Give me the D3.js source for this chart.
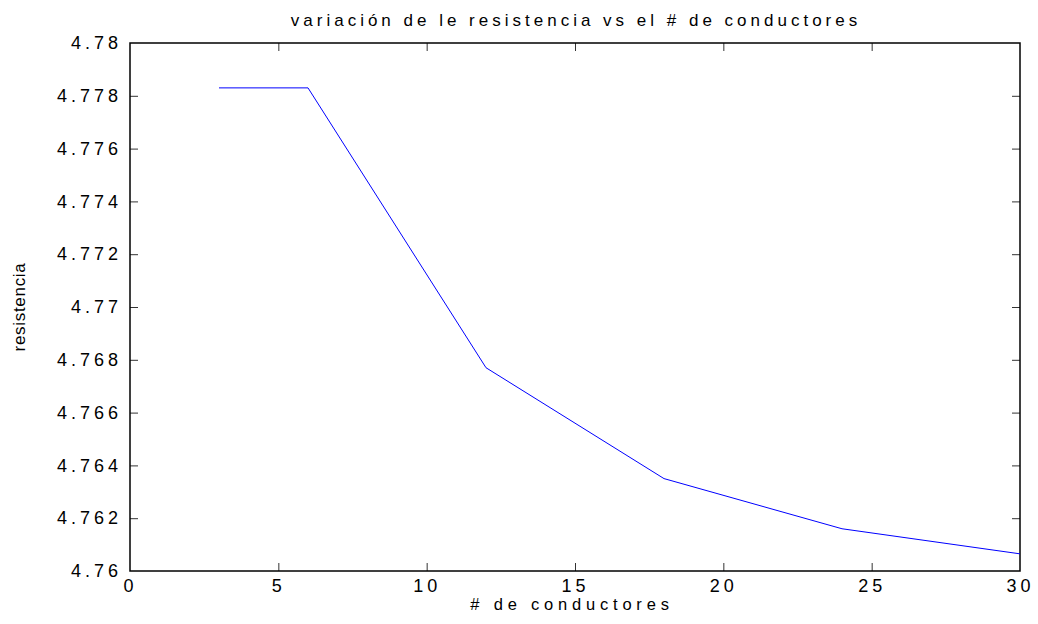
<!DOCTYPE html>
<html>
<head>
<meta charset="utf-8">
<script src="https://cdn.jsdelivr.net/npm/d3@7"></script>
<style>
  body { margin: 0; background: #fff; }
  svg { display: block; }
  text { font-family: "Liberation Sans", Arial, sans-serif; fill: #000; }
</style>
</head>
<body>
<svg id="chart" width="1038" height="624"></svg>
<script>
// Number of conductors and resulting resistance
const conductores = [3, 6, 12, 18, 24, 30];
const resistencia = [4.77830, 4.77830, 4.76770, 4.76350, 4.76160, 4.76065];
const xTicks = [0, 5, 10, 15, 20, 25, 30];
const yTicks = [4.76, 4.762, 4.764, 4.766, 4.768, 4.77, 4.772, 4.774, 4.776, 4.778, 4.78];

const titulo = "variación de le resistencia vs el # de conductores";
const xTitulo = "# de conductores";
const yTitulo = "resistencia";

const svg = d3.select("#chart");
const m = { left: 130, right: 1020, top: 43, bottom: 571 };

const x = d3.scaleLinear().domain([0, 30]).range([m.left, m.right]);
const y = d3.scaleLinear().domain([4.76, 4.78]).range([m.bottom, m.top]);

const fmt = d => String(+d.toFixed(3));
const tickLen = 8;
const tickFont = { size: "18px", spacing: "4px" };

// ticks on all four sides, pointing inward
const axes = [
  { axis: d3.axisBottom(x).tickValues(xTicks).tickFormat(fmt), tr: `translate(0,${m.bottom})`, labels: "x", pad: 20.5 },
  { axis: d3.axisTop(x).tickValues(xTicks), tr: `translate(0,${m.top})`, labels: null, pad: 3 },
  { axis: d3.axisLeft(y).tickValues(yTicks).tickFormat(fmt), tr: `translate(${m.left},0)`, labels: "y", pad: 8 },
  { axis: d3.axisRight(y).tickValues(yTicks), tr: `translate(${m.right},0)`, labels: null, pad: 3 }
];

axes.forEach((a, i) => {
  const g = svg.append("g").attr("transform", a.tr)
    .call(a.axis.tickSizeInner(-tickLen).tickSizeOuter(0).tickPadding(a.pad));
  g.select(".domain").remove();
  g.selectAll(".tick line").attr("stroke", "#333").attr("stroke-width", 1);
  if (!a.labels) {
    g.selectAll(".tick text").remove();
  } else {
    const t = g.selectAll(".tick text")
      .style("font-size", tickFont.size)
      .style("letter-spacing", tickFont.spacing)
      .attr("fill", "#000");
    if (a.labels === "x") t.attr("dy", 0);
  }
  // no tick marks on the frame corners
  g.selectAll(".tick").filter(d => (i < 2 ? (d === 0 || d === 30) : (d === 4.76 || d === 4.78)))
    .select("line").remove();
});

// frame
svg.append("rect")
  .attr("x", m.left).attr("y", m.top)
  .attr("width", m.right - m.left).attr("height", m.bottom - m.top)
  .attr("fill", "none").attr("stroke", "#000").attr("stroke-width", 1.5);

// data line
const line = d3.line().x((d, i) => x(conductores[i])).y(d => y(d));
svg.append("path")
  .datum(resistencia)
  .attr("d", line)
  .attr("fill", "none")
  .attr("stroke", "#0000ff")
  .attr("stroke-width", 1);

// titles
svg.append("text")
  .attr("x", (m.left + m.right) / 2 + 1).attr("y", 26)
  .attr("text-anchor", "middle")
  .style("font-size", "17px").style("letter-spacing", "4px")
  .text(titulo);

svg.append("text")
  .attr("x", (m.left + m.right) / 2 - 3).attr("y", 610)
  .attr("text-anchor", "middle")
  .style("font-size", "16.5px").style("letter-spacing", "4.8px")
  .text(xTitulo);

svg.append("text")
  .attr("transform", `translate(25,${(m.top + m.bottom) / 2}) rotate(-90)`)
  .attr("text-anchor", "middle")
  .style("font-size", "17px").style("letter-spacing", "0.7px")
  .text(yTitulo);
</script>
</body>
</html>
